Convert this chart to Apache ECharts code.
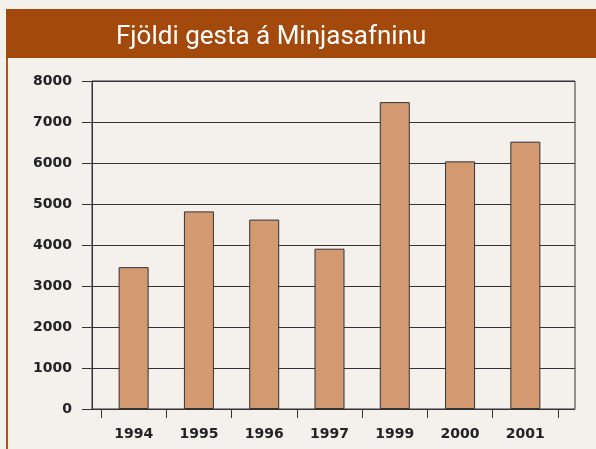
<!DOCTYPE html>
<html>
<head>
<meta charset="utf-8">
<script src="https://cdn.jsdelivr.net/npm/echarts@6/dist/echarts.min.js"></script>
<style>
  html, body { margin: 0; padding: 0; background: #f4f0eb; }
  #chart { width: 596px; height: 449px; }
</style>
</head>
<body>
<div id="chart"></div>
<script>
var years = ['1994', '1995', '1996', '1997', '1999', '2000', '2001']
var visitors = [3460, 4820, 4620, 3910, 7485, 6040, 6520]
var yMin = 0
var yMax = 8000
var yStep = 1000

var chart = echarts.init(document.getElementById('chart'))
var labelFont = {
    color: '#222',
    fontFamily: 'DejaVu Sans',
    fontWeight: 'bold',
    fontSize: 14
}
chart.setOption({
    backgroundColor: '#f4f0eb',
    animation: false,
    title: {
        text: 'Fjöldi gesta á Minjasafninu',
        left: 116,
        top: 24,
        padding: 0,
        textStyle: {
            color: '#fff',
            fontFamily: 'Roboto',
            fontWeight: 'normal',
            fontSize: 26
        }
    },
    graphic: [
        {
            type: 'rect',
            left: 6,
            top: 9,
            shape: { width: 590, height: 49 },
            style: { fill: '#a4490c' },
            z: -1
        },
        {
            type: 'rect',
            left: 6,
            top: 58,
            shape: { width: 2, height: 391 },
            style: { fill: '#b5520f' },
            z: -1
        }
    ],
    grid: [
        { left: 92, right: 21, top: 81, bottom: 40, show: true, borderColor: '#333', borderWidth: 1 },
        { left: 101, right: 38, top: 81, bottom: 40 }
    ],
    xAxis: [
        { gridIndex: 0, type: 'value', min: 0, max: 1, show: false },
        {
            gridIndex: 1,
            type: 'category',
            data: years,
            axisLine: { show: false },
            axisTick: { show: true, length: 9, inside: false, lineStyle: { color: '#333' } },
            axisLabel: Object.assign({ margin: 18 }, labelFont)
        }
    ],
    yAxis: [
        {
            gridIndex: 0,
            type: 'value',
            min: yMin,
            max: yMax,
            interval: yStep,
            axisLine: { show: true, lineStyle: { color: '#333' } },
            axisTick: { show: true, length: 10, lineStyle: { color: '#333' } },
            axisLabel: Object.assign({ margin: 20, formatter: function (v) { return String(v) } }, labelFont),
            splitLine: { show: true, lineStyle: { color: '#333', width: 1 } }
        },
        { gridIndex: 1, type: 'value', min: yMin, max: yMax, show: false }
    ],
    series: [{
        type: 'bar',
        xAxisIndex: 1,
        yAxisIndex: 1,
        data: visitors,
        barWidth: 30,
        itemStyle: {
            color: '#d39971',
            borderColor: '#333',
            borderWidth: 1
        }
    }]
})
</script>
</body>
</html>
